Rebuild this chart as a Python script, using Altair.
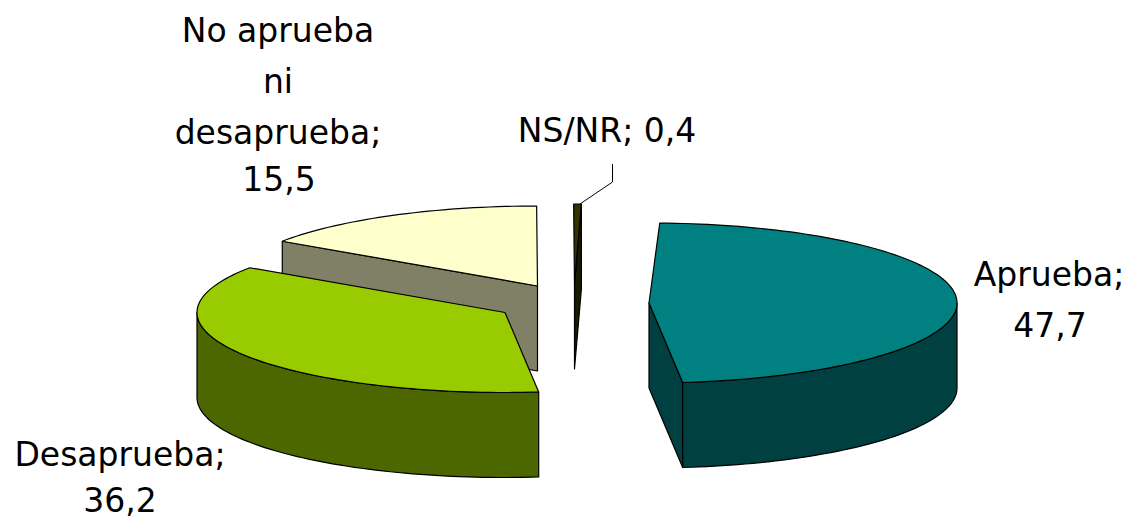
import math
import altair as alt
import pandas as pd

# Values
categories = ["Aprueba", "Desaprueba", "No aprueba ni desaprueba", "NS/NR"]
values = [47.7, 36.2, 15.5, 0.4]

top_colors = ["#008080", "#99CC00", "#FFFFCC", "#333300"]
side_colors = ["#004040", "#4C6600", "#808066", "#1A1A00"]

# Exploded pie geometry (picture units)
apex_x = [649, 505, 537.5, 574.5]
apex_y = [303, 312.5, 286, 284]
RX, RY, DEPTH, FIRST = 308, 80, 85, 2.0

label_text = ["No aprueba", "ni", "desaprueba;", "15,5", "NS/NR; 0,4",
              "Aprueba;", "47,7", "Desaprueba;", "36,2"]
label_x = [278, 278, 278, 279, 607, 1049, 1050, 120, 120]
label_y = [32, 83, 134, 181, 132, 276, 327, 456, 502]

leader_x = [612.5, 612.5, 580]
leader_y = [164, 182, 204]

W, H = 1116, 513
x_scale = alt.Scale(domain=[8, 8 + W], range=[0, W], nice=False, zero=False)
y_scale = alt.Scale(domain=[8 + H, 8], range=[H, 0], nice=False, zero=False)


def rim(cx, cy, a0, a1, dy=0.0):
    n = max(2, int(abs(a1 - a0) / 1.5) + 1)
    out = []
    for k in range(n + 1):
        a = math.radians(a0 + (a1 - a0) * k / n)
        out.append((cx + RX * math.sin(a), cy - RY * math.cos(a) + dy))
    return out


def poly(points, color):
    pts = list(points) + [points[0]]
    df = pd.DataFrame({"x": [p[0] for p in pts], "y": [p[1] for p in pts],
                       "i": range(len(pts))})
    return (
        alt.Chart(df)
        .mark_line(filled=True, color=color, stroke="#000000", strokeWidth=1.2,
                   strokeJoin="round", clip=False)
        .encode(
            x=alt.X("x:Q", scale=x_scale, axis=None),
            y=alt.Y("y:Q", scale=y_scale, axis=None),
            order=alt.Order("i:Q"),
        )
    )


angles = [FIRST]
for v in values:
    angles.append(angles[-1] + v * 3.6)


def wedge(i):
    cx, cy = apex_x[i], apex_y[i]
    return [(cx, cy)] + rim(cx, cy, angles[i], angles[i + 1])


def edge_face(i, a):
    cx, cy = apex_x[i], apex_y[i]
    r = rim(cx, cy, a, a)[0]
    return [r, (cx, cy), (cx, cy + DEPTH), (r[0], r[1] + DEPTH)]


def outer_face(i, a0, a1):
    cx, cy = apex_x[i], apex_y[i]
    return rim(cx, cy, a0, a1) + rim(cx, cy, a1, a0, DEPTH)


layers = [
    # NS/NR
    poly(edge_face(3, angles[4]), side_colors[3]),
    poly(wedge(3), top_colors[3]),
    # No aprueba ni desaprueba
    poly(edge_face(2, angles[2]), side_colors[2]),
    poly(wedge(2), top_colors[2]),
    # Desaprueba
    poly(outer_face(1, angles[1], 270), side_colors[1]),
    poly(wedge(1), top_colors[1]),
    # Aprueba
    poly(edge_face(0, angles[1]), side_colors[0]),
    poly(outer_face(0, 90, angles[1]), side_colors[0]),
    poly(wedge(0), top_colors[0]),
]

leader = (
    alt.Chart(pd.DataFrame({"x": leader_x, "y": leader_y, "i": range(3)}))
    .mark_line(color="#000000", strokeWidth=1)
    .encode(
        x=alt.X("x:Q", scale=x_scale, axis=None),
        y=alt.Y("y:Q", scale=y_scale, axis=None),
        order=alt.Order("i:Q"),
    )
)

labels = (
    alt.Chart(pd.DataFrame({"t": label_text, "x": label_x, "y": label_y}))
    .mark_text(font="DejaVu Sans", fontSize=33, color="#000000",
               align="center", baseline="middle")
    .encode(
        x=alt.X("x:Q", scale=x_scale, axis=None),
        y=alt.Y("y:Q", scale=y_scale, axis=None),
        text="t:N",
    )
)

chart = (
    alt.layer(*layers, leader, labels)
    .properties(width=W, height=H, padding=0, autosize=alt.AutoSizeParams(type="none"),
                background="#FFFFFF")
    .configure_view(stroke=None)
)

chart.save("out.html", embed_options={"renderer": "svg", "actions": False})
